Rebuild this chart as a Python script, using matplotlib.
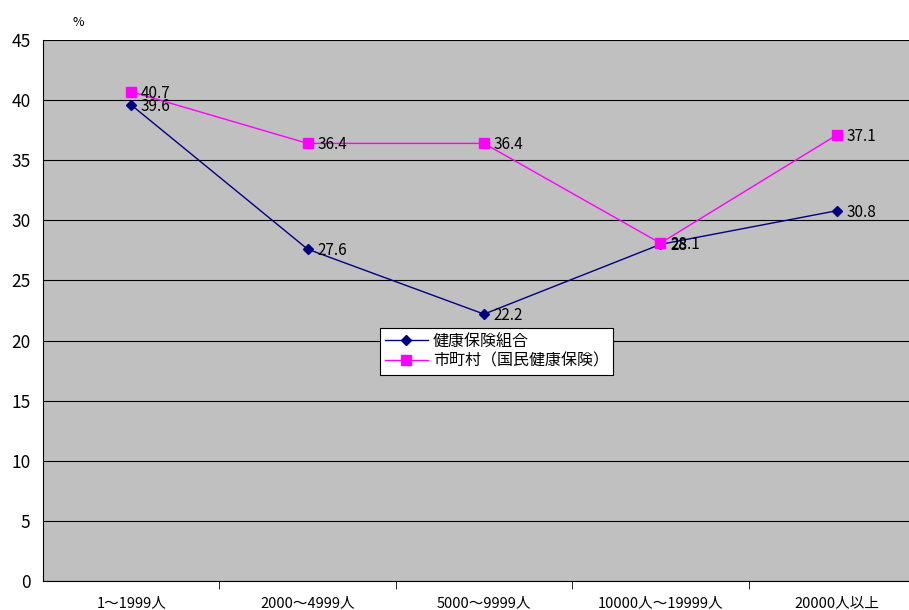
import matplotlib
matplotlib.use("Agg")
import matplotlib.pyplot as plt
import numpy as np

plt.rcParams['font.family'] = ['Noto Sans CJK JP', 'DejaVu Sans']

categories = ["1～1999人", "2000～4999人", "5000～9999人", "10000人～19999人", "20000人以上"]
kenpo = [39.6, 27.6, 22.2, 28.0, 30.8]
shichoson = [40.7, 36.4, 36.4, 28.1, 37.1]
kenpo_labels = ["39.6", "27.6", "22.2", "28", "30.8"]
shichoson_labels = ["40.7", "36.4", "36.4", "28.1", "37.1"]
series_names = ["健康保険組合", "市町村（国民健康保険）"]
yticks = [0, 5, 10, 15, 20, 25, 30, 35, 40, 45]

fig = plt.figure(figsize=(9.09, 6.10), dpi=100)
W, H = 909, 610
left, right, top, bottom = 43, 925, 40, 581
ax = fig.add_axes([left / W, 1 - bottom / H, (right - left) / W, (bottom - top) / H])
ax.set_facecolor("#C0C0C0")

x = np.arange(len(categories))
ax.plot(x, kenpo, color="#000080", lw=1, marker="D", ms=5, mfc="#000080", mec="#000080",
        label=series_names[0], zorder=3)
ax.plot(x, shichoson, color="#FF00FF", lw=1, marker="s", ms=6.5, mfc="#FF00FF", mec="#FF00FF",
        label=series_names[1], zorder=3)

for xi, v, t in zip(x, shichoson, shichoson_labels):
    ax.annotate(t, (xi, v), xytext=(7, -1), textcoords="offset points", ha="left", va="center",
                fontsize=11, color="black", zorder=4)
for xi, v, t in zip(x, kenpo, kenpo_labels):
    ax.annotate(t, (xi, v), xytext=(7, -1), textcoords="offset points", ha="left", va="center",
                fontsize=11, color="black", zorder=4)

ax.set_xlim(-0.5, len(categories) - 0.5)
ax.set_ylim(0, 45)
ax.set_yticks(yticks)
ax.set_yticklabels([str(v) for v in yticks], fontsize=12.5)
ax.yaxis.grid(True, color="black", lw=0.8)
ax.set_axisbelow(True)
ax.tick_params(axis="y", length=0, pad=9)

ax.set_xticks(x)
ax.set_xticklabels(categories, fontsize=10.5)
ax.tick_params(axis="x", length=0, pad=11)
ax.set_xticks(np.arange(len(categories)) + 0.5, minor=True)
ax.tick_params(axis="x", which="minor", length=6, direction="out", color="black")

for s in ["top", "right"]:
    ax.spines[s].set_visible(False)
ax.spines["left"].set_color("black")
ax.spines["bottom"].set_color("black")

leg = ax.legend(loc="upper left", bbox_to_anchor=(0.382, 0.468), frameon=True, fancybox=False,
                edgecolor="black", facecolor="white", framealpha=1, fontsize=11.5,
                handlelength=2.7, borderpad=0.3, labelspacing=0.2, handletextpad=0.3,
                borderaxespad=0)
leg.get_frame().set_linewidth(0.8)

fig.text(78 / W, 1 - 22 / H, "%", fontsize=9, ha="center", va="center")

fig.savefig("out.png", dpi=100)
